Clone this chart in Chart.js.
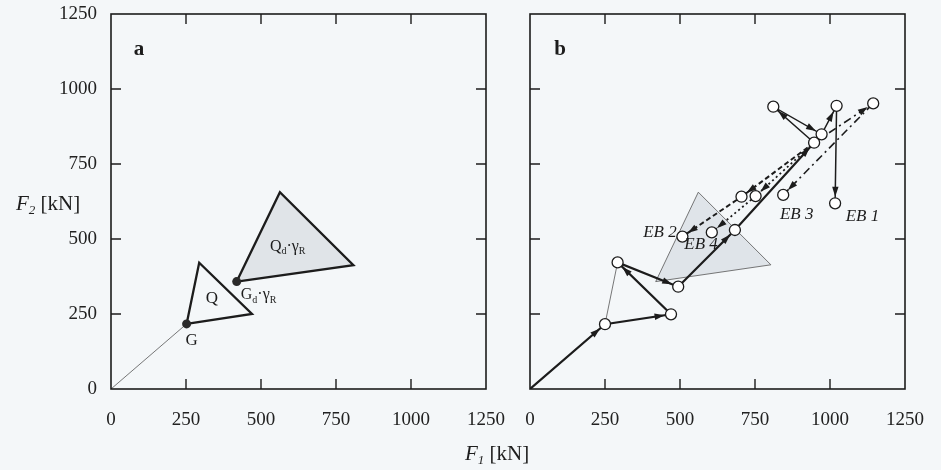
<!DOCTYPE html>
<html>
<head>
<meta charset="utf-8">
<script src="https://cdn.jsdelivr.net/npm/chart.js@4.4.1/dist/chart.umd.min.js"></script>
<style>
  html, body { margin:0; padding:0; background:#f4f7f9; }
  #wrap { position:relative; width:941px; height:470px; background:#f4f7f9; overflow:hidden; }
  .pane { position:absolute; top:0; height:470px; }
  .ttl { position:absolute; font-family:"Liberation Serif", serif; font-size:21px; color:#1e1e1e; white-space:nowrap; }
  .ttl sub { font-size:13px; vertical-align:-4px; }
</style>
</head>
<body>
<div id="wrap">
  <div class="pane" style="left:0;width:520px;"><canvas id="ca"></canvas></div>
  <div class="pane" style="left:520px;width:421px;"><canvas id="cb"></canvas></div>
  <div class="ttl" id="ytitle" style="left:16px;top:191px;"><i>F</i><sub><i>2</i></sub> [kN]</div>
  <div class="ttl" id="xtitle" style="left:465px;top:441px;"><i>F</i><sub><i>1</i></sub> [kN]</div>
</div>
<script>
// ---------------- DATA ----------------
const tickValues = [0, 250, 500, 750, 1000, 1250];

// Panel a
const a_originLine = [{x:0,y:0},{x:252,y:217}];
const a_triQ       = [{x:252,y:217},{x:294,y:421},{x:470,y:250},{x:252,y:217}];
const a_triQd      = [{x:419,y:358},{x:563,y:656},{x:808,y:413},{x:419,y:358}];
const a_points     = [{x:252,y:217},{x:419,y:358}];

// Panel b
const b_triangle   = [{x:419,y:358},{x:561,y:656},{x:803,y:414},{x:419,y:358}];
const b_thinSide   = [{x:250,y:216},{x:292,y:422}];
const b_mainPath   = [{x:0,y:0},{x:250,y:216},{x:470,y:249},{x:292,y:422},{x:494,y:341},{x:683,y:530},{x:947,y:821}];
const b_EB1        = [{x:947,y:821},{x:811,y:941},{x:972,y:849},{x:1022,y:944},{x:1017,y:619}];
const b_EB3        = [{x:947,y:821},{x:1144,y:952},{x:844,y:647}];
const b_EB2        = [{x:947,y:821},{x:705,y:641},{x:508,y:508}];
const b_EB4        = [{x:960,y:833},{x:752,y:643},{x:606,y:522}];
const b_circles    = [{x:250,y:216},{x:470,y:249},{x:292,y:422},{x:494,y:341},{x:683,y:530},
                      {x:947,y:821},{x:972,y:849},{x:811,y:941},{x:1022,y:944},{x:1144,y:952},
                      {x:1017,y:619},{x:844,y:647},{x:705,y:641},{x:752,y:643},{x:606,y:522},{x:508,y:508}];

// Text annotations (data coordinates)
const labelsA = [
  {parts:[['a','b']], x:93, y:1130, size:21},
  {parts:[['Q','n']], x:336, y:303, size:17},
  {parts:[['G','n']], x:269, y:163, size:17},
  {parts:[['Q','n'],['d','sub'],['·','n'],['γ','n'],['R','sub']], x:589, y:474, size:16},
  {parts:[['G','n'],['d','sub'],['·','n'],['γ','n'],['R','sub']], x:492, y:313, size:16}
];
const labelsB = [
  {parts:[['b','b']], x:100, y:1130, size:21},
  {parts:[['EB 2','i']], x:433, y:521, size:17},
  {parts:[['EB 4','i']], x:570, y:483, size:17},
  {parts:[['EB 3','i']], x:889, y:582, size:17},
  {parts:[['EB 1','i']], x:1108, y:574, size:17}
];

// ---------------- HELPERS ----------------
const SERIF = '"Liberation Serif", "Times New Roman", serif';
const INK = '#1c1c1c';

function drawRich(ctx, parts, cx, cy, size) {
  const fontFor = (st) => {
    if (st === 'b') return `bold ${size}px ${SERIF}`;
    if (st === 'i') return `italic ${size}px ${SERIF}`;
    if (st === 'sub') return `${Math.round(size*0.62)}px ${SERIF}`;
    return `${size}px ${SERIF}`;
  };
  let total = 0;
  const widths = parts.map(([t, st]) => { ctx.font = fontFor(st); const w = ctx.measureText(t).width; total += w; return w; });
  let x = cx - total / 2;
  ctx.fillStyle = INK;
  ctx.textBaseline = 'middle';
  ctx.textAlign = 'left';
  parts.forEach(([t, st], i) => {
    ctx.font = fontFor(st);
    const dy = st === 'sub' ? size * 0.3 : 0;
    ctx.fillText(t, x, cy + dy);
    x += widths[i];
  });
}

function arrowHead(ctx, x1, y1, x2, y2, back, len, hw) {
  const ang = Math.atan2(y2 - y1, x2 - x1);
  const c = Math.cos(ang), s = Math.sin(ang);
  const tx = x2 - c * back, ty = y2 - s * back;
  const bx = tx - c * len, by = ty - s * len;
  ctx.beginPath();
  ctx.moveTo(tx, ty);
  ctx.lineTo(bx - s * hw, by + c * hw);
  ctx.lineTo(bx + s * hw, by - c * hw);
  ctx.closePath();
  ctx.fill();
}

const framePlugin = {
  id: 'frame',
  afterDatasetsDraw(chart, args, opts) {
    const ctx = chart.ctx, ca = chart.chartArea;
    const xs = chart.scales.x, ys = chart.scales.y;
    ctx.save();
    chart.data.datasets.forEach((ds, i) => {
      if (!ds.arrows) return;
      const meta = chart.getDatasetMeta(i);
      ctx.fillStyle = INK;
      for (let k = 0; k < meta.data.length - 1; k++) {
        const p = meta.data[k], q = meta.data[k + 1];
        arrowHead(ctx, p.x, p.y, q.x, q.y, 6.5, 10, 3.2);
      }
    });
    ctx.strokeStyle = INK;
    ctx.lineWidth = 1.6;
    ctx.strokeRect(ca.left, ca.top, ca.right - ca.left, ca.bottom - ca.top);
    const L = 10;
    ctx.lineWidth = 1.4;
    xs.ticks.forEach(t => {
      if (t.value <= 0 || t.value >= 1250) return;
      const px = xs.getPixelForValue(t.value);
      ctx.beginPath();
      ctx.moveTo(px, ca.bottom); ctx.lineTo(px, ca.bottom - L);
      ctx.moveTo(px, ca.top); ctx.lineTo(px, ca.top + L);
      ctx.stroke();
    });
    ys.ticks.forEach(t => {
      if (t.value <= 0 || t.value >= 1250) return;
      const py = ys.getPixelForValue(t.value);
      ctx.beginPath();
      ctx.moveTo(ca.left, py); ctx.lineTo(ca.left + L, py);
      ctx.moveTo(ca.right, py); ctx.lineTo(ca.right - L, py);
      ctx.stroke();
    });
    (opts.labels || []).forEach(l => {
      drawRich(ctx, l.parts, xs.getPixelForValue(l.x), ys.getPixelForValue(l.y), l.size);
    });
    ctx.restore();
  }
};

function zeroPad(s) { s.paddingLeft = 0; s.paddingRight = 0; s.paddingTop = 0; s.paddingBottom = 0; }

function baseOptions(showYLabels, yWidth, padRight, labels) {
  return {
    responsive: true,
    maintainAspectRatio: false,
    animation: false,
    layout: { padding: { top: 14, right: padRight, left: 0, bottom: 0 } },
    plugins: { legend: { display: false }, tooltip: { enabled: false }, frame: { labels } },
    scales: {
      x: {
        type: 'linear', min: 0, max: 1250,
        afterBuildTicks: (s) => { s.ticks = tickValues.map(v => ({ value: v })); },
        afterFit: (s) => { s.height = 81; zeroPad(s); },
        grid: { display: false, drawTicks: false },
        border: { display: false },
        ticks: { autoSkip: false, maxRotation: 0, padding: 20, color: '#222',
                 font: { family: SERIF, size: 19 }, callback: v => String(v) }
      },
      y: {
        type: 'linear', min: 0, max: 1250, display: true,
        afterBuildTicks: (s) => { s.ticks = tickValues.map(v => ({ value: v })); },
        afterFit: (s) => { s.width = yWidth; zeroPad(s); },
        grid: { display: false, drawTicks: false },
        border: { display: false },
        ticks: { display: showYLabels, padding: 14, color: '#222', font: { family: SERIF, size: 19 }, callback: v => String(v) }
      }
    }
  };
}

function lineDs(data, o) {
  return Object.assign({
    data, borderColor: INK, borderWidth: 2, pointRadius: 0, fill: false,
    tension: 0, showLine: true
  }, o);
}

// ---------------- CHART A ----------------
new Chart(document.getElementById('ca'), {
  type: 'line',
  data: {
    datasets: [
      lineDs(a_points, { showLine: false, pointRadius: 4.5, pointBackgroundColor: '#2a2a2a', pointBorderColor: '#2a2a2a', borderWidth: 0 }),
      lineDs(a_triQ, { borderWidth: 2.3 }),
      lineDs(a_triQd, { borderWidth: 2.3, fill: 'shape', backgroundColor: '#e0e4e8' }),
      lineDs(a_originLine, { borderWidth: 0.8, borderColor: '#555' })
    ]
  },
  options: baseOptions(true, 111, 34, labelsA),
  plugins: [framePlugin]
});

// ---------------- CHART B ----------------
new Chart(document.getElementById('cb'), {
  type: 'line',
  data: {
    datasets: [
      lineDs(b_circles, { showLine: false, pointRadius: 5.5, pointBackgroundColor: '#ffffff', pointBorderColor: INK, pointBorderWidth: 1.3 }),
      lineDs(b_mainPath, { borderWidth: 2.2, arrows: true }),
      lineDs(b_EB1, { borderWidth: 1.5, arrows: true }),
      lineDs(b_EB2, { borderWidth: 2, borderDash: [5, 3], arrows: true }),
      lineDs(b_EB3, { borderWidth: 1.6, borderDash: [8, 4, 2, 4], arrows: true }),
      lineDs(b_EB4, { borderWidth: 1.8, borderDash: [2, 3], arrows: true }),
      lineDs(b_thinSide, { borderWidth: 0.8, borderColor: '#555' }),
      lineDs(b_triangle, { borderWidth: 0.8, borderColor: '#555', fill: 'shape', backgroundColor: 'rgba(218,223,229,0.8)' })
    ]
  },
  options: baseOptions(false, 10, 36, labelsB),
  plugins: [framePlugin]
});
</script>
</body>
</html>
